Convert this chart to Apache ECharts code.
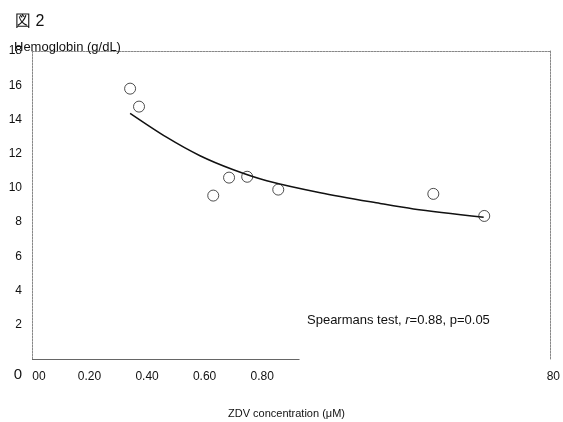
<!DOCTYPE html>
<html><head><meta charset="utf-8">
<script src="https://cdn.jsdelivr.net/npm/echarts@6/dist/echarts.min.js"></script>
<style>html,body{margin:0;padding:0;background:#fff}#c{width:563px;height:422px}</style>
</head><body><div id="c"></div>
<script>
var figTitle = '図 2';
var yName = 'Hemoglobin (g/dL)';
var xName = 'ZDV concentration (\u03bcM)';
var xTickLabels = ['00','0.20','0.40','0.60','0.80','','','','','80'];
var yTicks = [0,2,4,6,8,10,12,14,16,18];
// measured points: [ZDV concentration, hemoglobin]
var points = [[0.341,15.8],[0.372,14.75],[0.630,9.55],[0.685,10.6],[0.748,10.65],[0.856,9.9],[1.395,9.65],[1.572,8.36]];
// fitted trend curve
var trend = [[0.341,14.36],[0.469,12.95],[0.584,11.88],[0.700,11.06],[0.816,10.42],[1.002,9.72],[1.210,9.09],[1.326,8.77],[1.570,8.28]];
var axisSolidEnd = 0.93;

var FONT = '"Liberation Sans", Arial, sans-serif';
var chart = echarts.init(document.getElementById('c'));
var dashed = {show:true, onZero:false, lineStyle:{color:'#888', width:1, type:[2,1]}};
chart.setOption({
  animation:false,
  backgroundColor:'#fff',
  title:[
    {text:figTitle, left:10, top:9, textStyle:{fontFamily:FONT, fontSize:16, fontWeight:'normal', color:'#111'}},
    {text:yName, left:9, top:36, textStyle:{fontFamily:FONT, fontSize:13, fontWeight:'normal', color:'#111'}},
    {text:xName, left:223, top:403, textStyle:{fontFamily:FONT, fontSize:11, fontWeight:'normal', color:'#111'}},
    {text:'{n|Spearmans test, }{i|r}{n|=0.88, p=0.05}', left:302, top:309,
     textStyle:{fontWeight:'normal', rich:{n:{fontFamily:FONT, fontSize:13, fontWeight:'normal', color:'#111'}, i:{fontFamily:FONT, fontSize:13, fontWeight:'normal', fontStyle:'italic', color:'#111'}}}}
  ],
  grid:{left:32, right:11, top:51, bottom:63},
  xAxis:[
    {type:'value', min:0, max:1.8, interval:0.2, position:'bottom',
     axisLine:{show:false}, axisTick:{show:false}, splitLine:{show:false},
     axisLabel:{margin:12, fontFamily:FONT, fontSize:12, color:'#111',
       formatter:function(v){var i=Math.round(v/0.2); var t=xTickLabels[i]||''; if(t==='')return ''; if(i===0)return '{a|'+t+'}'; if(i===9)return '{b|'+t+'}'; return t;},
       rich:{a:{fontFamily:FONT,fontSize:12,color:'#111',padding:[0,0,0,14]}, b:{fontFamily:FONT,fontSize:12,color:'#111',padding:[0,0,0,7]}}}},
    {type:'value', min:0, max:1.8, interval:0.2, position:'top',
     axisLine:dashed, axisTick:{show:false}, axisLabel:{show:false}, splitLine:{show:false}}
  ],
  yAxis:[
    {type:'value', min:0, max:18, interval:2, position:'left',
     axisLine:dashed, axisTick:{show:false}, splitLine:{show:false},
     axisLabel:{margin:10, fontFamily:FONT, fontSize:12, color:'#111',
       formatter:function(v){ if(yTicks.indexOf(v)<0) return ''; if(v===0) return '{z|0}'; return String(v);},
       rich:{z:{fontFamily:FONT, fontSize:15, color:'#111', padding:[32,0,0,0]}}}},
    {type:'value', min:0, max:18, interval:2, position:'right',
     axisLine:dashed, axisTick:{show:false}, axisLabel:{show:false}, splitLine:{show:false}}
  ],
  series:[
    {type:'line', data:trend, smooth:0.3, showSymbol:false, symbol:'none',
     lineStyle:{color:'#111', width:1.5}, z:2,
     markLine:{silent:true, symbol:'none', label:{show:false}, lineStyle:{color:'#666', width:1, type:'solid'},
       data:[[{coord:[0,0]},{coord:[axisSolidEnd,0]}]]}},
    {type:'scatter', data:points, symbol:'circle', symbolSize:11,
     itemStyle:{color:'rgba(255,255,255,0)', borderColor:'#222', borderWidth:1}, z:3}
  ]
});
</script></body></html>
